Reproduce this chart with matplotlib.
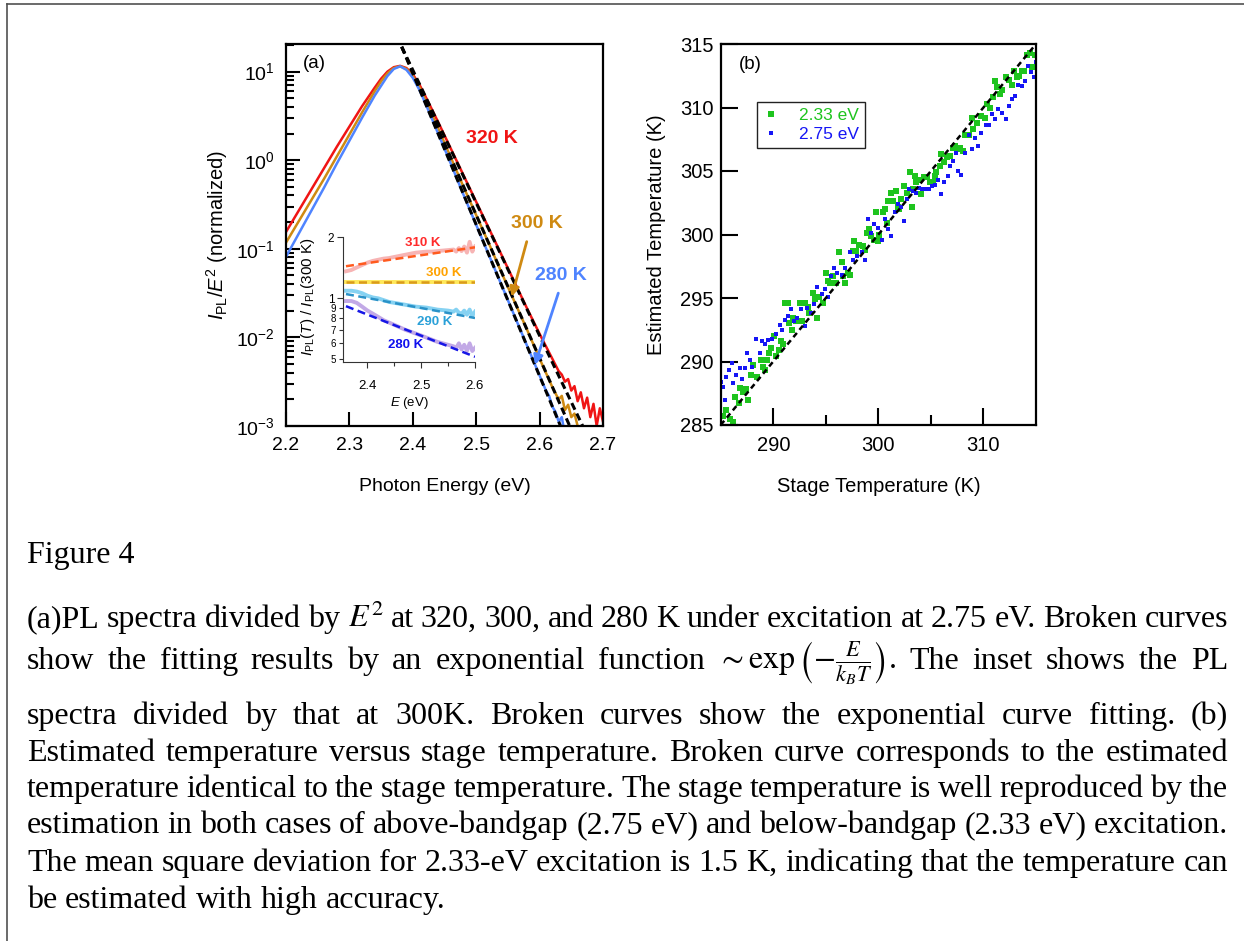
import matplotlib
matplotlib.use('Agg')
import matplotlib.pyplot as plt
import numpy as np
from matplotlib.lines import Line2D
from matplotlib.ticker import FixedLocator, FixedFormatter, NullFormatter, LogLocator

plt.rcParams['font.family'] = ['Liberation Sans', 'DejaVu Sans']
plt.rcParams['mathtext.fontset'] = 'custom'
plt.rcParams['mathtext.rm'] = 'Liberation Sans'
plt.rcParams['mathtext.it'] = 'Liberation Sans:italic'
plt.rcParams['mathtext.bf'] = 'Liberation Sans:bold'

# ---- panel (a): PL / E^2 spectra, log10 of the normalized value ----
red_E = [2.20, 2.22, 2.24, 2.26, 2.28, 2.30, 2.32, 2.34, 2.35, 2.36, 2.37, 2.38, 2.39, 2.40, 2.41, 2.42,
         2.44, 2.46, 2.48, 2.50, 2.52, 2.54, 2.56, 2.58, 2.60, 2.61, 2.62, 2.63,
         2.635, 2.64, 2.645, 2.65, 2.655, 2.66, 2.665, 2.67, 2.675, 2.68, 2.685, 2.69, 2.695, 2.70]
red_log = [-0.81, -0.57, -0.33, -0.09, 0.15, 0.38, 0.61, 0.82, 0.92, 1.00, 1.05, 1.065, 1.04, 0.97, 0.86, 0.72,
           0.43, 0.13, -0.17, -0.47, -0.77, -1.07, -1.37, -1.67, -1.96, -2.10, -2.24, -2.38,
           -2.42, -2.50, -2.47, -2.60, -2.55, -2.72, -2.62, -2.80, -2.68, -2.90, -2.75, -3.0, -2.80, -2.95]

orange_E = [2.20, 2.22, 2.24, 2.26, 2.28, 2.30, 2.32, 2.34, 2.35, 2.36, 2.37, 2.38, 2.39, 2.40, 2.41, 2.42,
            2.44, 2.46, 2.48, 2.50, 2.52, 2.54, 2.56, 2.58, 2.60, 2.62,
            2.63, 2.635, 2.64, 2.645, 2.65, 2.655, 2.66, 2.665]
orange_log = [-0.93, -0.69, -0.45, -0.21, 0.04, 0.29, 0.54, 0.78, 0.89, 0.98, 1.04, 1.06, 1.03, 0.95, 0.83, 0.68,
              0.36, 0.03, -0.30, -0.62, -0.94, -1.27, -1.59, -1.91, -2.24, -2.56,
              -2.70, -2.66, -2.82, -2.76, -2.90, -2.86, -3.0, -3.1]

blue_E = [2.20, 2.22, 2.24, 2.26, 2.28, 2.30, 2.32, 2.34, 2.35, 2.36, 2.37, 2.38, 2.39, 2.40, 2.41, 2.42,
          2.44, 2.46, 2.48, 2.50, 2.52, 2.54, 2.56, 2.58, 2.60,
          2.61, 2.615, 2.62, 2.625, 2.63, 2.635, 2.64]
blue_log = [-1.09, -0.83, -0.57, -0.31, -0.04, 0.22, 0.48, 0.73, 0.84, 0.95, 1.03, 1.06, 1.02, 0.93, 0.80, 0.64,
            0.30, -0.04, -0.39, -0.73, -1.07, -1.41, -1.75, -2.09, -2.43,
            -2.60, -2.66, -2.78, -2.84, -2.95, -2.90, -3.1]

# exponential fits (straight on the log axis): end points
fit_E = [[2.3825, 2.668], [2.3825, 2.6475], [2.3825, 2.633]]
fit_log = [[1.28, -3.0], [1.28, -3.0], [1.28, -3.0]]

# ---- inset: I_PL(T) / I_PL(300 K) ----
ins_E = [2.36, 2.37, 2.38, 2.39, 2.40, 2.41, 2.42, 2.43, 2.44, 2.45, 2.46, 2.47, 2.48, 2.49, 2.50,
         2.51, 2.52, 2.53, 2.54, 2.55, 2.56, 2.565, 2.57, 2.575, 2.58, 2.585, 2.59, 2.595, 2.60]
r310 = [1.36, 1.38, 1.42, 1.46, 1.50, 1.53, 1.55, 1.57, 1.58, 1.60, 1.62, 1.64, 1.66, 1.68, 1.69,
        1.70, 1.70, 1.71, 1.72, 1.73, 1.74, 1.70, 1.77, 1.71, 1.80, 1.68, 1.90, 1.70, 1.80]
r290 = [1.09, 1.09, 1.08, 1.06, 1.03, 1.01, 1.00, 0.98, 0.96, 0.95, 0.94, 0.93, 0.92, 0.91, 0.905,
        0.90, 0.89, 0.88, 0.875, 0.87, 0.86, 0.88, 0.85, 0.84, 0.87, 0.83, 0.88, 0.82, 0.86]
r280 = [0.97, 0.97, 0.95, 0.91, 0.87, 0.84, 0.81, 0.78, 0.76, 0.74, 0.72, 0.70, 0.685, 0.67, 0.655,
        0.64, 0.625, 0.61, 0.60, 0.59, 0.58, 0.57, 0.60, 0.56, 0.59, 0.55, 0.60, 0.55, 0.57]
r300_level = 1.21
ins_fit_E = [2.36, 2.60]
fit310 = [1.44, 1.785]
fit300 = [1.21, 1.21]
fit290 = [1.05, 0.80]
fit280 = [0.915, 0.515]

# ---- panel (b): estimated vs stage temperature ----
green_stage = [285.2, 285.5, 285.9, 286.2, 286.4, 286.7, 286.8, 287.1, 287.4, 287.6, 287.9, 288.1, 288.5, 288.8,
               289.0, 289.2, 289.4, 289.6, 289.8, 290.1, 290.3, 290.5, 290.7, 290.9, 291.1, 291.4, 291.5, 291.8,
               291.9, 292.2, 292.5, 292.7, 293.0, 293.3, 293.4, 293.8, 294.0, 294.2, 294.4, 294.7, 295.0, 295.2,
               295.4, 295.7, 296.0, 296.3, 296.5, 296.6, 296.8, 297.1, 297.3, 297.6, 297.7, 297.9, 298.2, 298.5,
               298.7, 298.9, 299.1, 299.3, 299.6, 299.8, 300.0, 300.1, 300.4, 300.6, 300.8, 300.9, 301.2, 301.4,
               301.7, 301.9, 302.0, 302.2, 302.4, 302.7, 303.0, 303.2, 303.3, 303.5, 303.6, 303.9, 304.1, 304.3,
               304.6, 304.9, 305.2, 305.4, 305.5, 305.9, 306.0, 306.2, 306.5, 306.8, 307.1, 307.3, 307.6, 307.8,
               308.1, 308.2, 308.6, 308.9, 309.0, 309.4, 309.8, 310.1, 310.3, 310.6, 310.9, 311.1, 311.3, 311.6,
               311.8, 312.1, 312.4, 312.7, 312.9, 313.2, 313.4, 313.7, 313.9, 314.1, 314.4, 314.6, 314.9]
green_est = [285.7, 286.2, 285.5, 285.2, 287.2, 286.7, 287.9, 287.6, 287.8, 287.0, 288.9, 289.7, 288.8, 290.1,
             289.6, 289.3, 290.1, 290.7, 291.1, 292.0, 290.4, 290.9, 291.6, 291.4, 294.6, 294.6, 293.0, 292.5,
             293.4, 293.2, 294.6, 293.2, 294.6, 294.3, 293.8, 295.4, 294.9, 293.4, 295.1, 294.6, 297.0, 296.3,
             296.2, 296.7, 296.2, 298.6, 297.8, 296.7, 296.2, 297.0, 296.8, 298.7, 299.5, 298.7, 299.2, 299.1,
             298.8, 300.1, 300.4, 299.9, 299.6, 301.8, 299.5, 300.0, 301.8, 302.0, 300.9, 302.6, 303.3, 302.6,
             303.4, 302.2, 302.0, 302.8, 303.8, 303.3, 304.9, 302.2, 303.6, 304.6, 304.1, 304.3, 303.2, 304.5,
             304.5, 304.1, 304.1, 304.6, 304.9, 305.4, 306.3, 305.7, 306.1, 306.2, 306.8, 307.0, 306.7, 306.8,
             306.6, 307.8, 307.8, 309.2, 308.3, 308.8, 309.3, 309.2, 310.3, 310.0, 310.8, 312.1, 311.6, 311.1,
             311.4, 312.4, 312.2, 311.8, 312.9, 312.4, 312.5, 312.9, 312.9, 314.1, 314.3, 313.2, 314.1]
blue_stage = [285.0, 285.2, 285.4, 285.5, 285.8, 286.1, 286.2, 286.5, 286.8, 287.0, 287.3, 287.5, 287.8, 288.0,
              288.4, 288.7, 288.9, 289.2, 289.5, 289.9, 290.3, 290.6, 290.8, 291.1, 291.4, 291.7, 292.0, 292.3,
              292.6, 293.0, 293.2, 293.6, 293.9, 294.2, 294.6, 294.9, 295.2, 295.5, 295.8, 296.1, 296.5, 296.8,
              297.3, 297.6, 298.0, 298.4, 298.7, 299.0, 299.3, 299.6, 300.0, 300.3, 300.6, 300.9, 301.2, 301.6,
              301.9, 302.2, 302.4, 302.7, 302.9, 303.3, 303.6, 303.9, 304.2, 304.5, 304.8, 305.1, 305.4, 305.7,
              306.0, 306.2, 306.6, 306.8, 307.1, 307.4, 307.6, 307.9, 308.2, 308.6, 308.9, 309.2, 309.5, 309.8,
              310.2, 310.5, 310.8, 311.1, 311.4, 311.8, 312.1, 312.4, 312.7, 313.0, 313.3, 313.7, 314.0, 314.2,
              314.5, 314.8, 315.0]
blue_est = [288.4, 288.0, 287.0, 288.8, 289.3, 289.9, 288.3, 288.9, 289.5, 288.6, 289.5, 290.7, 290.1, 289.6,
            291.8, 290.7, 291.6, 291.4, 291.7, 291.8, 292.2, 292.9, 292.5, 293.3, 293.6, 294.1, 293.2, 293.4,
            294.1, 292.8, 294.2, 293.8, 294.5, 295.9, 295.3, 295.7, 295.1, 296.7, 297.4, 297.0, 296.8, 297.4,
            298.6, 298.0, 298.3, 298.6, 298.0, 301.2, 300.1, 300.8, 300.5, 299.6, 301.2, 300.4, 299.9, 301.8,
            302.4, 302.2, 301.1, 302.8, 303.6, 303.4, 303.3, 303.7, 303.6, 303.6, 303.6, 303.8, 303.9, 304.3,
            303.2, 304.1, 304.6, 305.4, 305.8, 306.4, 305.0, 304.7, 306.4, 307.8, 306.7, 307.6, 307.0, 308.0,
            308.6, 308.6, 309.5, 309.1, 309.9, 309.6, 309.1, 310.1, 310.7, 310.9, 311.8, 311.7, 312.1, 313.3,
            312.8, 312.4, 313.6]

caption_lines = [
    r'(a)PL spectra divided by $E^2$ at 320, 300, and 280 K under excitation at 2.75 eV. Broken curves',
    r'show the fitting results by an exponential function $\sim\exp\left(-\frac{E}{k_BT}\right)$. The inset shows the PL',
    'spectra divided by that at 300K. Broken curves show the exponential curve fitting. (b)',
    'Estimated temperature versus stage temperature. Broken curve corresponds to the estimated',
    'temperature identical to the stage temperature. The stage temperature is well reproduced by the',
    'estimation in both cases of above-bandgap (2.75 eV) and below-bandgap (2.33 eV) excitation.',
    'The mean square deviation for 2.33-eV excitation is 1.5 K, indicating that the temperature can',
    'be estimated with high accuracy.',
]
caption_base = [627, 669, 724, 761, 797, 833, 871, 908]

W, H = 1244, 941
fig = plt.figure(figsize=(W / 100, H / 100), dpi=100)


def box(x0, y0, x1, y1):
    return [x0 / W, 1 - y1 / H, (x1 - x0) / W, (y1 - y0) / H]


# frame lines of the page
fig.add_artist(Line2D([6.8 / W, 6.8 / W], [0, 1 - 4 / H], color='#505050', lw=1.2))
fig.add_artist(Line2D([6.8 / W, 1], [1 - 4 / H, 1 - 4 / H], color='#505050', lw=1.2))

# ---------------- panel (a) ----------------
ax = fig.add_axes(box(286, 44, 603, 426))
ax.set_yscale('log')
c_red, c_org, c_blu = '#f01414', '#cf8a12', '#4f84ff'
ax.plot(red_E, 10 ** np.array(red_log), color=c_red, lw=1.8)
ax.plot(orange_E, 10 ** np.array(orange_log), color=c_org, lw=1.8)
ax.plot(blue_E, 10 ** np.array(blue_log), color=c_blu, lw=1.8)
for fe, fl in zip(fit_E, fit_log):
    ax.plot(fe, 10 ** np.array(fl), color='k', lw=2.2, ls=(0, (2.4, 1.4)))
ax.set_xlim(2.2, 2.7)
ax.set_ylim(1e-3, 20.5)
ax.set_xticks([2.2, 2.3, 2.4, 2.5, 2.6, 2.7])
ax.yaxis.set_minor_locator(LogLocator(base=10, subs=range(2, 10), numticks=20))
ax.yaxis.set_minor_formatter(NullFormatter())
ax.tick_params(which='both', direction='in', top=False, right=False, width=1.5)
ax.tick_params(which='major', length=10, labelsize=14, pad=8)
ax.tick_params(axis='y', which='minor', length=6)
for s in ax.spines.values():
    s.set_linewidth(1.6)
ax.set_xlabel('Photon Energy (eV)', fontsize=14, labelpad=17)
ax.set_ylabel(r'$I_{\rm PL}/E^2$ (normalized)', fontsize=14.5, labelpad=4)
ax.text(0.088, 0.949, '(a)', transform=ax.transAxes, fontsize=13.5, ha='center', va='center')

ax.text(2.524, 1.74, '320 K', color=c_red, fontsize=14, fontweight='bold', ha='center', va='center')
ax.text(2.595, 0.191, '300 K', color=c_org, fontsize=14, fontweight='bold', ha='center', va='center')
ax.text(2.633, 0.050, '280 K', color=c_blu, fontsize=14, fontweight='bold', ha='center', va='center')
ax.annotate('', xy=(2.556, 0.0288), xytext=(2.5797, 0.1205),
            arrowprops=dict(arrowstyle='-|>', color=c_org, lw=2, mutation_scale=14, shrinkA=0, shrinkB=0))
ax.annotate('', xy=(2.5927, 0.0049), xytext=(2.6295, 0.0316),
            arrowprops=dict(arrowstyle='-|>', color=c_blu, lw=2, mutation_scale=14, shrinkA=0, shrinkB=0))

# ---------------- inset ----------------
ins = fig.add_axes(box(343.3, 237.3, 475, 361.7))
ins.set_yscale('log')
ins.patch.set_alpha(0)
ins.plot(ins_E, r310, color='#f7b4b4', lw=2.8)
ins.plot(ins_fit_E, [r300_level, r300_level], color='#ffe85a', lw=2.8)
ins.plot(ins_E, r290, color='#86d2f2', lw=2.8)
ins.plot(ins_E, r280, color='#c2a9e6', lw=2.8)
dash = (0, (3.2, 1.8))
ins.plot(ins_fit_E, fit310, color='#ff5a1e', lw=1.8, ls=dash)
ins.plot(ins_fit_E, fit300, color='#d99a1c', lw=1.8, ls=dash)
ins.plot(ins_fit_E, fit290, color='#2a92c8', lw=1.8, ls=dash)
ins.plot(ins_fit_E, fit280, color='#1616e6', lw=1.8, ls=dash)
ins.set_xlim(2.355, 2.6)
ins.set_ylim(0.487, 2.0)
ins.yaxis.set_major_locator(FixedLocator([1, 2]))
ins.yaxis.set_major_formatter(FixedFormatter(['1', '2']))
ins.yaxis.set_minor_locator(FixedLocator([0.5, 0.6, 0.7, 0.8, 0.9]))
ins.yaxis.set_minor_formatter(FixedFormatter(['5', '6', '7', '8', '9']))
ins.xaxis.set_major_locator(FixedLocator([2.4, 2.5, 2.6]))
ins.xaxis.set_minor_locator(FixedLocator([2.45, 2.55]))
ins.tick_params(which='both', direction='out', width=0.8, color='#333333', pad=2.5)
ins.tick_params(axis='y', which='major', length=4, labelsize=8.5)
ins.tick_params(axis='y', which='minor', length=3, labelsize=7)
ins.tick_params(axis='x', which='minor', length=3)
ins.tick_params(axis='x', which='major', length=4, labelsize=9.5, pad=9)
for side in ['top', 'right']:
    ins.spines[side].set_visible(False)
for side in ['left', 'bottom']:
    ins.spines[side].set_linewidth(0.8)
    ins.spines[side].set_color('#333333')
ins.set_xlabel(r'$E$ (eV)', fontsize=9.5)
ins.xaxis.set_label_coords(0.5, -0.27)
ins.set_ylabel(r'$I_{\rm PL}(T)$ / $I_{\rm PL}$(300 K)', fontsize=11)
ins.yaxis.set_label_coords(-0.2, 0.52)
ins.text(2.5035, 1.875, '310 K', color='#ff2a2a', fontsize=9.5, fontweight='bold', ha='center', va='center')
ins.text(2.5426, 1.333, '300 K', color='#ffa200', fontsize=9.5, fontweight='bold', ha='center', va='center')
ins.text(2.5258, 0.764, '290 K', color='#2aa0d8', fontsize=9.5, fontweight='bold', ha='center', va='center')
ins.text(2.470, 0.588, '280 K', color='#1010ee', fontsize=9.5, fontweight='bold', ha='center', va='center')

# ---------------- panel (b) ----------------
bx = fig.add_axes(box(720.7, 44, 1036, 425))
c_grn, c_bl2 = '#1ec41e', '#1616f5'
bx.plot(green_stage, green_est, 's', color=c_grn, ms=4.2, mew=0)
bx.plot(blue_stage, blue_est, 's', color=c_bl2, ms=2.2, mew=0)
bx.plot([285, 315], [285, 315], color='k', lw=1.8, ls=(0, (2.2, 1.6)), zorder=5)
bx.set_xlim(285, 315)
bx.set_ylim(285, 315)
bx.set_xticks([290, 300, 310])
bx.set_xticks([295, 305], minor=True)
bx.set_yticks([285, 290, 295, 300, 305, 310, 315])
bx.tick_params(which='both', direction='in', top=False, right=False, width=1.5)
bx.tick_params(which='major', length=12, labelsize=14.5, pad=8)
bx.tick_params(axis='y', which='major', pad=5)
bx.tick_params(which='minor', length=7)
for s in bx.spines.values():
    s.set_linewidth(1.6)
bx.set_xlabel('Stage Temperature (K)', fontsize=14.5, labelpad=16)
bx.set_ylabel('Estimated Temperature (K)', fontsize=14.5, labelpad=10)
bx.text(0.093, 0.9475, '(b)', transform=bx.transAxes, fontsize=13.5, ha='center', va='center')
handles = [Line2D([], [], ls='none', marker='s', color=c_grn, ms=4.2, mew=0),
           Line2D([], [], ls='none', marker='s', color=c_bl2, ms=2.2, mew=0)]
leg = bx.legend(handles, ['2.33 eV', '2.75 eV'], loc='upper left', bbox_to_anchor=(0.114, 0.8486),
                fontsize=12.5, frameon=True, fancybox=False, edgecolor='#222222', framealpha=1,
                borderpad=0.35, handlelength=0.9, handletextpad=1.2, labelspacing=0.25, borderaxespad=0)
leg.get_frame().set_linewidth(1.0)
for t, c in zip(leg.get_texts(), [c_grn, c_bl2]):
    t.set_color(c)

# ---------------- caption ----------------
cap_fs = 23
serif = ['Liberation Serif', 'DejaVu Serif']
left_px, right_px = 27, 1228
fig.text(left_px / W, 1 - 563 / H, 'Figure 4', fontsize=cap_fs, family=serif, va='baseline')
renderer = fig.canvas.get_renderer()
for i, (line, yb) in enumerate(zip(caption_lines, caption_base)):
    words = line.split(' ')
    texts = [fig.text(0, 1 - yb / H, w, fontsize=cap_fs, family=serif, math_fontfamily='stix',
                      va='baseline') for w in words]
    widths = [t.get_window_extent(renderer).width for t in texts]
    if i < len(caption_lines) - 1:
        gap = (right_px - left_px - sum(widths)) / (len(words) - 1)
    else:
        gap = cap_fs * 100 / 72 * 0.25
    x = left_px
    for t, w in zip(texts, widths):
        t.set_x(x / W)
        x += w + gap

fig.savefig('out.png', dpi=100)
